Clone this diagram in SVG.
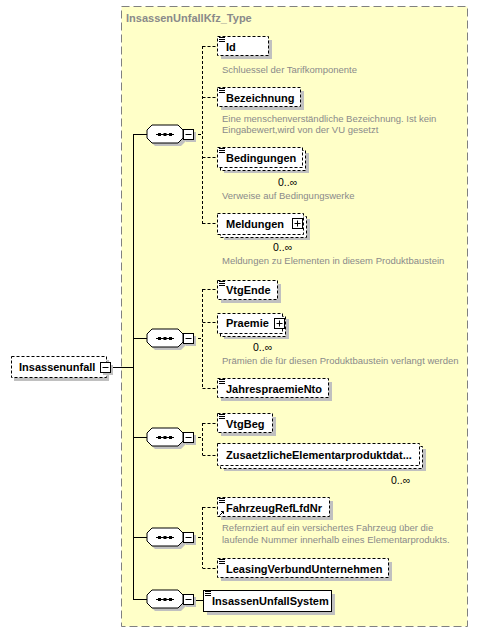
<svg xmlns="http://www.w3.org/2000/svg" xmlns:xlink="http://www.w3.org/1999/xlink" width="478" height="632" viewBox="0 0 478 632">
<style>
.name{font-family:"Liberation Sans",Arial,sans-serif;font-size:11px;font-weight:bold;fill:#000}
.desc{font-family:"Liberation Sans",Arial,sans-serif;font-size:9.5px;fill:#8a8a8a}
.occ{font-family:"Liberation Sans",Arial,sans-serif;font-size:10.5px;fill:#000}
.title{font-family:"Liberation Sans",Arial,sans-serif;font-size:11px;font-weight:bold;fill:#8a8a8a}
.box{fill:#fff;stroke:#000;stroke-width:1;stroke-dasharray:3,2}
.sbox{fill:#fff;stroke:#000;stroke-width:1}
.shadow{fill:#c0c0c0}
.conn{fill:none;stroke:#000;stroke-width:1}
.dconn{fill:none;stroke:#000;stroke-width:1;stroke-dasharray:3,2}
.icon{stroke:#000;stroke-width:1}
</style>
<defs>
<g id="seq">
<polygon class="shadow" points="8,-6 34,-6 39,-1 39,7 34,12 8,12 3,7 3,-1"/>
<polygon class="sbox" points="5,-9 31,-9 36,-4 36,4 31,9 5,9 0,4 0,-4"/>
<line class="icon" x1="9" y1="0.5" x2="27" y2="0.5"/>
<rect x="11" y="-1" width="3" height="3" fill="#000"/>
<rect x="16.5" y="-1" width="3" height="3" fill="#000"/>
<rect x="22" y="-1" width="3" height="3" fill="#000"/>
<rect class="shadow" x="39" y="-2" width="10" height="10"/>
<rect class="sbox" x="36.5" y="-4.5" width="10" height="10"/>
<line class="icon" x1="38.5" y1="0.5" x2="44.5" y2="0.5"/>
</g>
<g id="minus">
<rect class="shadow" x="2.5" y="2.5" width="10" height="10"/>
<rect class="sbox" x="0" y="0" width="10" height="10"/>
<line class="icon" x1="2" y1="5" x2="8" y2="5"/>
</g>
<g id="plus">
<rect class="sbox" x="0" y="0" width="10" height="10"/>
<line class="icon" x1="2" y1="5" x2="8" y2="5"/>
<line class="icon" x1="5" y1="2" x2="5" y2="8"/>
</g>
<g id="lines">
<line class="icon" x1="0" y1="0.5" x2="6" y2="0.5"/>
<line class="icon" x1="0" y1="2.5" x2="6" y2="2.5"/>
<line class="icon" x1="0" y1="4.5" x2="6" y2="4.5"/>
</g>
</defs>

<rect width="478" height="632" fill="#fff"/>

<g id="InsassenUnfallKfz_Type">
<rect x="121.5" y="6.5" width="346" height="620" fill="#ffffc8" stroke="#808080" stroke-width="1" stroke-dasharray="8,4"/>
<text class="title" x="126" y="22">InsassenUnfallKfz_Type</text>
</g>

<g id="connectors">
<line class="conn" x1="110" y1="367.5" x2="133.5" y2="367.5"/>
<line class="conn" x1="133.5" y1="134" x2="133.5" y2="599.5"/>
<line class="conn" x1="133" y1="134.5" x2="147" y2="134.5"/>
<line class="conn" x1="133" y1="338.5" x2="147" y2="338.5"/>
<line class="conn" x1="133" y1="437.5" x2="147" y2="437.5"/>
<line class="conn" x1="133" y1="537.5" x2="147" y2="537.5"/>
<line class="conn" x1="133" y1="599.5" x2="147" y2="599.5"/>
<line class="dconn" x1="193" y1="134.5" x2="202.5" y2="134.5"/>
<line class="dconn" x1="202.5" y1="46" x2="202.5" y2="224"/>
<line class="dconn" x1="202.5" y1="46.5" x2="217" y2="46.5"/>
<line class="dconn" x1="202.5" y1="97.5" x2="217" y2="97.5"/>
<line class="dconn" x1="202.5" y1="157.5" x2="217" y2="157.5"/>
<line class="dconn" x1="202.5" y1="223.5" x2="217" y2="223.5"/>
<line class="dconn" x1="193" y1="338.5" x2="202.5" y2="338.5"/>
<line class="dconn" x1="202.5" y1="289" x2="202.5" y2="388"/>
<line class="dconn" x1="202.5" y1="289.5" x2="217" y2="289.5"/>
<line class="dconn" x1="202.5" y1="322.5" x2="217" y2="322.5"/>
<line class="dconn" x1="202.5" y1="388.5" x2="217" y2="388.5"/>
<line class="dconn" x1="193" y1="437.5" x2="202.5" y2="437.5"/>
<line class="dconn" x1="202.5" y1="423" x2="202.5" y2="455"/>
<line class="dconn" x1="202.5" y1="423.5" x2="217" y2="423.5"/>
<line class="dconn" x1="202.5" y1="455.5" x2="217" y2="455.5"/>
<line class="dconn" x1="193" y1="537.5" x2="202.5" y2="537.5"/>
<line class="dconn" x1="202.5" y1="507" x2="202.5" y2="568"/>
<line class="dconn" x1="202.5" y1="507.5" x2="217" y2="507.5"/>
<line class="dconn" x1="202.5" y1="568.5" x2="217" y2="568.5"/>
<line class="conn" x1="193" y1="600.5" x2="203" y2="600.5"/>
</g>

<g id="seq1"><use xlink:href="#seq" x="147" y="134"/></g>
<g id="seq2"><use xlink:href="#seq" x="147" y="338"/></g>
<g id="seq3"><use xlink:href="#seq" x="147" y="437"/></g>
<g id="seq4"><use xlink:href="#seq" x="147" y="537"/></g>
<g id="seq5"><use xlink:href="#seq" x="147" y="599"/></g>

<g id="Insassenunfall">
<rect class="shadow" x="14" y="360" width="95" height="21"/>
<rect class="box" x="11.5" y="356.5" width="95" height="21"/>
<text class="name" x="19" y="371">Insassenunfall</text>
<use xlink:href="#minus" x="100.5" y="362.5"/>
</g>

<g id="Id">
<rect class="shadow" x="221" y="40" width="51" height="19"/>
<rect class="box" x="217.5" y="36.5" width="51" height="19"/>
<use xlink:href="#lines" x="219" y="37"/>
<text class="name" x="226" y="51">Id</text>
<text class="desc" x="222" y="73">Schluessel der Tarifkomponente</text>
</g>

<g id="Bezeichnung">
<rect class="shadow" x="221" y="91" width="83" height="19"/>
<rect class="box" x="217.5" y="87.5" width="83" height="19"/>
<use xlink:href="#lines" x="219" y="88"/>
<text class="name" x="226" y="102">Bezeichnung</text>
<text class="desc" x="222" y="122">Eine menschenverständliche Bezeichnung. Ist kein</text>
<text class="desc" x="222" y="133">Eingabewert,wird von der VU gesetzt</text>
</g>

<g id="Bedingungen">
<rect class="shadow" x="224" y="153" width="85" height="20"/>
<rect class="box" x="220.5" y="150.5" width="85" height="20"/>
<rect class="box" x="217.5" y="147.5" width="85" height="20"/>
<use xlink:href="#lines" x="219" y="148"/>
<text class="name" x="226" y="162">Bedingungen</text>
<text class="occ" x="278" y="186">0..∞</text>
<text class="desc" x="222" y="199">Verweise auf Bedingungswerke</text>
</g>

<g id="Meldungen">
<rect class="shadow" x="224" y="219" width="86" height="21"/>
<rect class="box" x="220.5" y="216.5" width="86" height="21"/>
<rect class="box" x="217.5" y="213.5" width="86" height="21"/>
<text class="name" x="226" y="228">Meldungen</text>
<use xlink:href="#plus" x="292.5" y="218.5"/>
<text class="occ" x="273" y="251">0..∞</text>
<text class="desc" x="222" y="264">Meldungen zu Elementen in diesem Produktbaustein</text>
</g>

<g id="VtgEnde">
<rect class="shadow" x="221" y="284" width="60" height="19"/>
<rect class="box" x="217.5" y="280.5" width="60" height="19"/>
<use xlink:href="#lines" x="219" y="281"/>
<text class="name" x="226" y="294">VtgEnde</text>
</g>

<g id="Praemie">
<rect class="shadow" x="224" y="319" width="65" height="20"/>
<rect class="box" x="220.5" y="316.5" width="65" height="20"/>
<rect class="box" x="217.5" y="313.5" width="65" height="20"/>
<text class="name" x="226" y="327">Praemie</text>
<use xlink:href="#plus" x="274.5" y="318.5"/>
<text class="occ" x="253" y="351">0..∞</text>
<text class="desc" x="222" y="364">Prämien die für diesen Produktbaustein verlangt werden</text>
</g>

<g id="JahrespraemieNto">
<rect class="shadow" x="221" y="382" width="111" height="19"/>
<rect class="box" x="217.5" y="378.5" width="111" height="19"/>
<use xlink:href="#lines" x="219" y="379"/>
<text class="name" x="226" y="393">JahrespraemieNto</text>
</g>

<g id="VtgBeg">
<rect class="shadow" x="221" y="417" width="55" height="19"/>
<rect class="box" x="217.5" y="413.5" width="55" height="19"/>
<use xlink:href="#lines" x="219" y="414"/>
<text class="name" x="226" y="428">VtgBeg</text>
</g>

<g id="ZusaetzlicheElementarproduktdaten">
<rect class="shadow" x="224" y="449" width="202" height="22"/>
<rect class="box" x="220.5" y="446.5" width="202" height="22"/>
<rect class="box" x="217.5" y="443.5" width="202" height="22"/>
<text class="name" x="226" y="459">ZusaetzlicheElementarproduktdat...</text>
<text class="occ" x="391" y="484">0..∞</text>
</g>

<g id="FahrzeugRefLfdNr">
<rect class="shadow" x="221" y="501" width="112" height="19"/>
<rect class="box" x="217.5" y="497.5" width="112" height="19"/>
<use xlink:href="#lines" x="219" y="498"/>
<path d="M219.5,515.5 L223.5,511.5 M221,511.5 L223.5,511.5 L223.5,514" fill="none" stroke="#000" stroke-width="1"/>
<text class="name" x="226" y="512">FahrzeugRefLfdNr</text>
<text class="desc" x="222" y="531">Refernziert auf ein versichertes Fahrzeug über die</text>
<text class="desc" x="222" y="543">laufende Nummer innerhalb eines Elementarprodukts.</text>
</g>

<g id="LeasingVerbundUnternehmen">
<rect class="shadow" x="221" y="562" width="171" height="19"/>
<rect class="box" x="217.5" y="558.5" width="171" height="19"/>
<use xlink:href="#lines" x="219" y="559"/>
<text class="name" x="226" y="573">LeasingVerbundUnternehmen</text>
</g>

<g id="InsassenUnfallSystem">
<rect class="shadow" x="207" y="594" width="128" height="21"/>
<rect class="sbox" x="203.5" y="590.5" width="128" height="21"/>
<use xlink:href="#lines" x="205" y="591"/>
<text class="name" x="212" y="605">InsassenUnfallSystem</text>
</g>
</svg>
